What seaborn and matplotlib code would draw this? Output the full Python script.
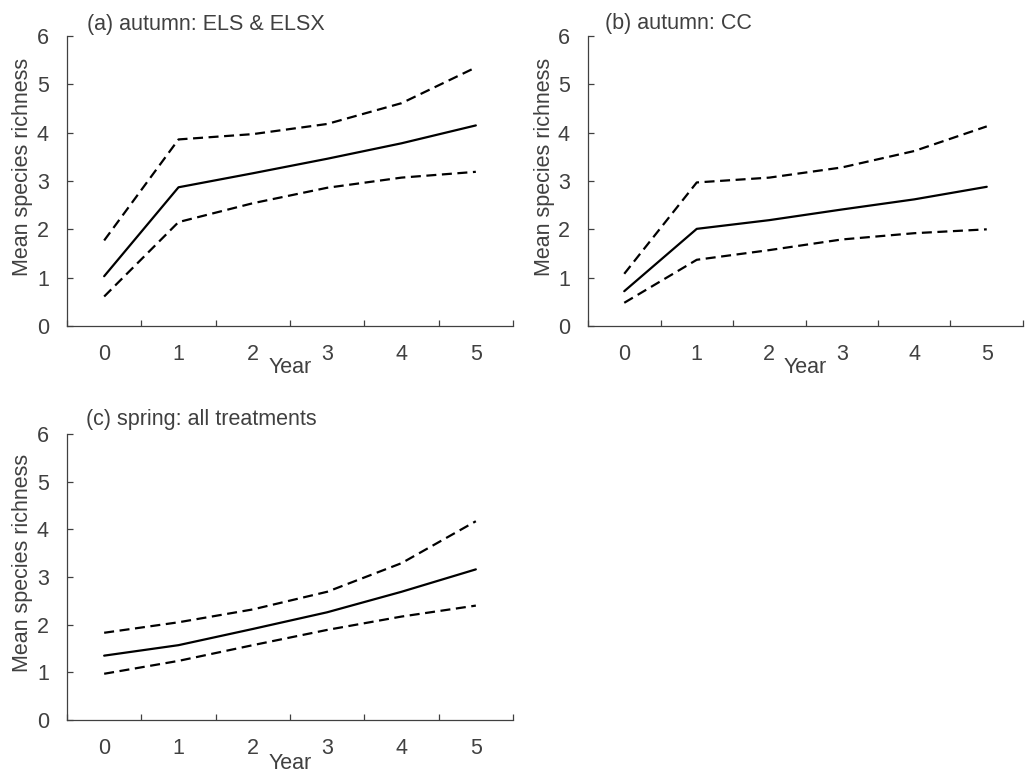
import pandas as pd
import matplotlib
matplotlib.use("Agg")
import matplotlib.pyplot as plt
import seaborn as sns

# Year categories shown on the x axis
years = [0, 1, 2, 3, 4, 5]

# (a) autumn: ELS & ELSX
a_mean = [1.03, 2.87, 3.16, 3.46, 3.78, 4.15]
a_lower = [0.61, 2.15, 2.54, 2.86, 3.07, 3.19]
a_upper = [1.77, 3.86, 3.97, 4.18, 4.61, 5.35]

# (b) autumn: CC
b_mean = [0.72, 2.01, 2.19, 2.41, 2.62, 2.88]
b_lower = [0.48, 1.37, 1.57, 1.79, 1.92, 2.00]
b_upper = [1.08, 2.97, 3.07, 3.28, 3.62, 4.13]

# (c) spring: all treatments
c_mean = [1.35, 1.57, 1.91, 2.26, 2.69, 3.16]
c_lower = [0.97, 1.24, 1.57, 1.89, 2.17, 2.40]
c_upper = [1.83, 2.05, 2.32, 2.69, 3.29, 4.17]

titles = ["(a) autumn: ELS & ELSX", "(b) autumn: CC", "(c) spring: all treatments"]
ylabel = "Mean species richness"
xlabel = "Year"

sns.set_style("ticks")
plt.rcParams["font.family"] = ["Liberation Sans", "DejaVu Sans"]

grey = "#404040"
fs = 15.5


def to_long(mean, lower, upper):
    rows = []
    for name, vals in (("mean", mean), ("lower", lower), ("upper", upper)):
        for yr, v in zip(years, vals):
            rows.append({"year": yr, "richness": v, "series": name})
    return pd.DataFrame(rows)


fig = plt.figure(figsize=(10.26, 7.76), dpi=100)

# axes placed to match the reference layout (pixel-based fractions)
panels = [
    ([67 / 1026, 450 / 776, 446 / 1026, 290 / 776], a_mean, a_lower, a_upper, 0.045, 1.038, -0.108),
    ([588 / 1026, 450 / 776, 435 / 1026, 290 / 776], b_mean, b_lower, b_upper, 0.040, 1.042, -0.108),
    ([67 / 1026, 56 / 776, 446 / 1026, 286 / 776], c_mean, c_lower, c_upper, 0.042, 1.052, -0.115),
]

for i, (rect, mean, lower, upper, tx, ty, xly) in enumerate(panels):
    ax = fig.add_axes(rect)
    df = to_long(mean, lower, upper)
    sns.lineplot(
        data=df, x="year", y="richness", style="series",
        dashes={"mean": "", "lower": (4.5, 2.5), "upper": (4.5, 2.5)},
        color="black", linewidth=1.6, legend=False, ax=ax,
    )
    ax.set_xlim(-0.5, 5.5)
    ax.set_ylim(0, 6)
    ax.set_yticks(range(0, 7))
    ax.set_xticks(years)
    ax.set_xticklabels([str(y) for y in years])
    ax.set_xticks([y - 0.5 for y in years] + [5.5], minor=True)
    ax.tick_params(axis="x", which="major", length=0, pad=13, labelsize=fs, labelcolor=grey)
    ax.tick_params(axis="x", which="minor", direction="in", length=4.5, width=0.9, color=grey)
    ax.tick_params(axis="y", direction="in", length=4.5, width=0.9, color=grey,
                   pad=13, labelsize=fs, labelcolor=grey)
    sns.despine(ax=ax)
    for s in ("left", "bottom"):
        ax.spines[s].set_color(grey)
        ax.spines[s].set_linewidth(0.9)
    ax.set_ylabel(ylabel, fontsize=fs, color=grey)
    ax.yaxis.set_label_coords(-0.077, 0.55)
    ax.set_xlabel(xlabel, fontsize=fs, color=grey, va="top")
    ax.xaxis.set_label_coords(0.5, xly)
    ax.text(tx, ty, titles[i], transform=ax.transAxes, fontsize=fs,
            color=grey, ha="left", va="center")

fig.savefig("out.png", dpi=100)
